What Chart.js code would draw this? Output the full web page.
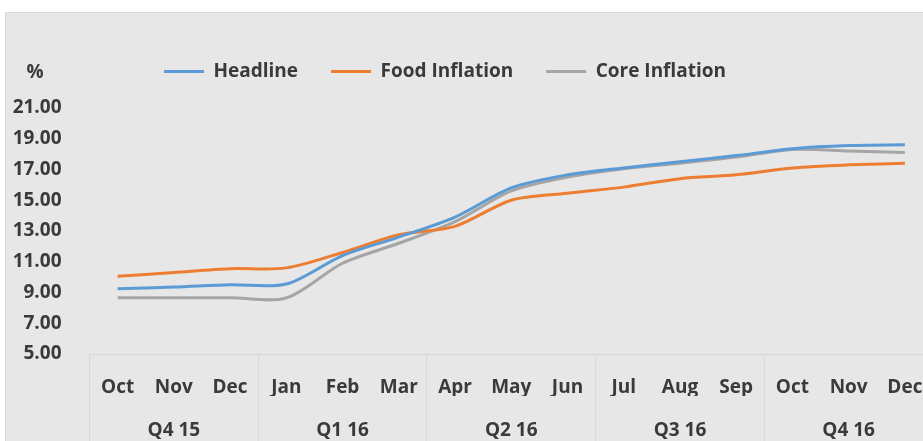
<!DOCTYPE html>
<html>
<head>
<meta charset="utf-8">
<script src="https://cdn.jsdelivr.net/npm/chart.js@4.4.1/dist/chart.umd.min.js"></script>
<style>
  html, body { margin: 0; padding: 0; background: #fff; overflow: hidden; width: 923px; height: 441px; }
  #panel { position: absolute; left: 5px; top: 12px; width: 940px; height: 429px; background: #e7e7e7; border-top: 1px solid #dadada; border-left: 1px solid #dadada; box-sizing: border-box; }
</style>
</head>
<body>
<div id="panel"><canvas id="inflationChart"></canvas></div>
<script>
const months = ['Oct', 'Nov', 'Dec', 'Jan', 'Feb', 'Mar', 'Apr', 'May', 'Jun', 'Jul', 'Aug', 'Sep', 'Oct', 'Nov', 'Dec'];
const quarters = ['Q4 15', 'Q1 16', 'Q2 16', 'Q3 16', 'Q4 16'];
const headline = [9.25, 9.35, 9.5, 9.55, 11.4, 12.6, 13.9, 15.8, 16.65, 17.1, 17.5, 17.9, 18.35, 18.55, 18.6];
const foodInflation = [10.05, 10.3, 10.55, 10.6, 11.6, 12.75, 13.3, 15.0, 15.45, 15.85, 16.4, 16.65, 17.1, 17.3, 17.4];
const coreInflation = [8.65, 8.65, 8.65, 8.65, 10.9, 12.2, 13.6, 15.6, 16.5, 17.05, 17.4, 17.8, 18.3, 18.2, 18.1];
const yTicks = [5, 7, 9, 11, 13, 15, 17, 19, 21];

const textColor = '#3a3a3a';
const boldFont = { family: "'Open Sans', sans-serif", size: 19, weight: 'bold' };

// draws the "%" unit label on the legend row and moves the legend to where the original has it
const unitLabel = {
    id: 'unitLabel',
    afterLayout(chart) {
        chart.legend.left = 125;
    },
    afterDraw(chart) {
        const ctx = chart.ctx;
        const legend = chart.legend;
        const y = legend.top + legend.options.labels.padding + boldFont.size / 2;
        ctx.save();
        ctx.font = "bold 19px 'Open Sans', sans-serif";
        ctx.fillStyle = textColor;
        ctx.textAlign = 'center';
        ctx.textBaseline = 'middle';
        ctx.fillText('%', chart.scales.y.left + 29, y + 1);
        ctx.restore();
    }
};

document.addEventListener("DOMContentLoaded", function() {
    const ctx = document.getElementById('inflationChart').getContext('2d');

    const lineStyle = {
        fill: false,
        tension: 0.3,
        borderWidth: 3,
        pointRadius: 0,
        pointHoverRadius: 0,
        pointStyle: 'line'
    };

    const data = {
        labels: months,
        datasets: [{
            label: 'Headline',
            data: headline,
            borderColor: '#5b9bd5',
            backgroundColor: '#5b9bd5',
            ...lineStyle
        }, {
            label: 'Food Inflation',
            data: foodInflation,
            borderColor: '#ed7d31',
            backgroundColor: '#ed7d31',
            ...lineStyle
        }, {
            label: 'Core Inflation',
            data: coreInflation,
            borderColor: '#a5a5a5',
            backgroundColor: '#a5a5a5',
            ...lineStyle
        }]
    };

    const options = {
        responsive: true,
        maintainAspectRatio: false,
        animation: false,
        layout: {
            padding: { top: 16, right: 12, left: 0, bottom: 0 }
        },
        scales: {
            x: {
                offset: true,
                grid: {
                    offset: true,
                    drawOnChartArea: false,
                    tickLength: 87,
                    color: (c) => (c.index % 3 === 0 ? '#d8d8d8' : 'rgba(0,0,0,0)')
                },
                border: { display: true, color: '#d8d8d8' },
                ticks: {
                    color: textColor,
                    font: boldFont,
                    padding: -65,
                    maxRotation: 0,
                    autoSkip: false
                },
                afterFit: (s) => { s.height = 42; }
            },
            x2: {
                type: 'category',
                position: 'bottom',
                labels: quarters,
                offset: true,
                grid: { display: false, drawTicks: false },
                border: { display: false },
                ticks: {
                    color: textColor,
                    font: boldFont,
                    padding: 23,
                    maxRotation: 0
                },
                afterFit: (s) => { s.height = 45; }
            },
            y: {
                min: 5,
                max: 22.1,
                grid: { display: false, drawTicks: false },
                border: { display: false },
                afterBuildTicks: (s) => { s.ticks = yTicks.map(v => ({ value: v })); },
                ticks: {
                    color: textColor,
                    font: boldFont,
                    padding: 28,
                    callback: (value) => value.toFixed(2)
                },
                afterFit: (s) => { s.width = 83.5; }
            }
        },
        plugins: {
            legend: {
                position: 'top',
                align: 'start',
                labels: {
                    usePointStyle: true,
                    pointStyleWidth: 40,
                    padding: 33,
                    color: textColor,
                    font: boldFont
                }
            },
            tooltip: { enabled: false }
        }
    };

    new Chart(ctx, {
        type: 'line',
        data: data,
        options: options,
        plugins: [unitLabel]
    });
});
</script>
</body>
</html>
